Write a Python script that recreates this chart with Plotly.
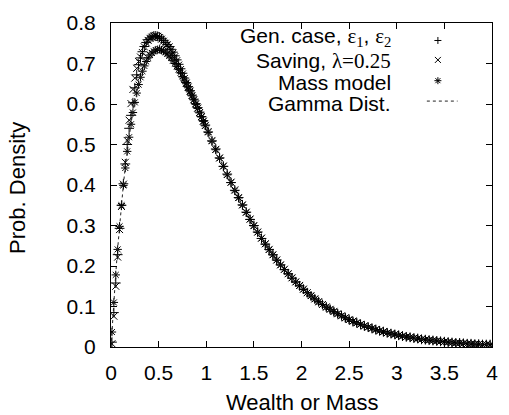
import plotly.graph_objects as go

# Shared wealth/mass grid (bin centres)
wealth = [
    0.01, 0.03, 0.05, 0.07, 0.09, 0.11, 0.13, 0.15, 0.17, 0.19,
    0.21, 0.23, 0.25, 0.27, 0.29, 0.31, 0.33, 0.35, 0.37, 0.39,
    0.41, 0.43, 0.45, 0.47, 0.49, 0.51, 0.53, 0.55, 0.57, 0.59,
    0.61, 0.63, 0.65, 0.67, 0.69, 0.71, 0.73, 0.75, 0.77, 0.79,
    0.81, 0.83, 0.85, 0.87, 0.89, 0.91, 0.93, 0.95, 0.97, 0.99,
    1.02, 1.06, 1.10, 1.14, 1.18, 1.22, 1.26, 1.30, 1.34, 1.38,
    1.42, 1.46, 1.50, 1.54, 1.58, 1.62, 1.66, 1.70, 1.74, 1.78,
    1.82, 1.86, 1.90, 1.94, 1.98, 2.02, 2.06, 2.10, 2.14, 2.18,
    2.22, 2.26, 2.30, 2.34, 2.38, 2.42, 2.46, 2.50, 2.54, 2.58,
    2.62, 2.66, 2.70, 2.74, 2.78, 2.82, 2.86, 2.90, 2.94, 2.98,
    3.02, 3.06, 3.10, 3.14, 3.18, 3.22, 3.26, 3.30, 3.34, 3.38,
    3.42, 3.46, 3.50, 3.54, 3.58, 3.62, 3.66, 3.70, 3.74, 3.78,
    3.82, 3.86, 3.90, 3.94, 3.98,
]

gen_case = [
    0.012, 0.085, 0.158, 0.228, 0.293, 0.350, 0.403, 0.452, 0.500, 0.540,
    0.572, 0.603, 0.640, 0.672, 0.697, 0.714, 0.729, 0.742, 0.752, 0.759,
    0.763, 0.766, 0.768, 0.768, 0.767, 0.765, 0.761, 0.757, 0.752, 0.747,
    0.742, 0.735, 0.728, 0.719, 0.709, 0.698, 0.687, 0.676, 0.664, 0.653,
    0.643, 0.633, 0.622, 0.612, 0.601, 0.591, 0.580, 0.569, 0.559, 0.548,
    0.531, 0.509, 0.489, 0.467, 0.446, 0.427, 0.406, 0.387, 0.369, 0.351,
    0.333, 0.315, 0.300, 0.284, 0.268, 0.254, 0.241, 0.228, 0.215, 0.203,
    0.191, 0.181, 0.170, 0.161, 0.151, 0.143, 0.134, 0.126, 0.119, 0.112,
    0.105, 0.099, 0.093, 0.087, 0.082, 0.077, 0.072, 0.068, 0.063, 0.060,
    0.056, 0.052, 0.049, 0.046, 0.043, 0.040, 0.038, 0.035, 0.033, 0.031,
    0.029, 0.027, 0.025, 0.024, 0.022, 0.021, 0.019, 0.018, 0.017, 0.016,
    0.015, 0.014, 0.013, 0.012, 0.011, 0.010, 0.010, 0.009, 0.008, 0.008,
    0.007, 0.007, 0.006, 0.006, 0.006,
]

saving = [
    0.008, 0.076, 0.150, 0.222, 0.290, 0.347, 0.402, 0.456, 0.510, 0.560,
    0.601, 0.636, 0.664, 0.688, 0.705, 0.716, 0.727, 0.741, 0.751, 0.757,
    0.762, 0.765, 0.768, 0.769, 0.767, 0.764, 0.760, 0.755, 0.750, 0.746,
    0.741, 0.734, 0.726, 0.717, 0.707, 0.696, 0.685, 0.674, 0.663, 0.652,
    0.642, 0.632, 0.621, 0.611, 0.601, 0.590, 0.579, 0.569, 0.558, 0.547,
    0.532, 0.510, 0.488, 0.467, 0.447, 0.426, 0.407, 0.388, 0.369, 0.351,
    0.333, 0.316, 0.300, 0.284, 0.269, 0.255, 0.241, 0.228, 0.215, 0.203,
    0.192, 0.181, 0.171, 0.161, 0.152, 0.143, 0.134, 0.127, 0.119, 0.112,
    0.105, 0.099, 0.093, 0.088, 0.082, 0.077, 0.072, 0.068, 0.064, 0.060,
    0.056, 0.052, 0.049, 0.046, 0.043, 0.040, 0.038, 0.035, 0.033, 0.031,
    0.029, 0.027, 0.025, 0.024, 0.022, 0.021, 0.019, 0.018, 0.017, 0.016,
    0.015, 0.014, 0.013, 0.012, 0.011, 0.010, 0.010, 0.009, 0.008, 0.008,
    0.007, 0.007, 0.006, 0.006, 0.005,
]

mass_model = [
    0.037, 0.110, 0.178, 0.241, 0.298, 0.350, 0.399, 0.442, 0.483, 0.518,
    0.550, 0.579, 0.604, 0.627, 0.648, 0.666, 0.681, 0.694, 0.705, 0.714,
    0.721, 0.726, 0.730, 0.733, 0.734, 0.735, 0.733, 0.731, 0.728, 0.724,
    0.719, 0.714, 0.707, 0.700, 0.693, 0.685, 0.677, 0.668, 0.659, 0.650,
    0.640, 0.630, 0.620, 0.610, 0.599, 0.589, 0.578, 0.568, 0.557, 0.546,
    0.530, 0.508, 0.487, 0.466, 0.446, 0.425, 0.406, 0.386, 0.368, 0.350,
    0.332, 0.315, 0.299, 0.283, 0.268, 0.254, 0.240, 0.227, 0.214, 0.202,
    0.191, 0.180, 0.170, 0.160, 0.151, 0.142, 0.134, 0.126, 0.118, 0.111,
    0.105, 0.098, 0.093, 0.087, 0.082, 0.077, 0.072, 0.067, 0.063, 0.059,
    0.056, 0.052, 0.049, 0.046, 0.043, 0.040, 0.037, 0.035, 0.033, 0.031,
    0.029, 0.027, 0.025, 0.024, 0.022, 0.021, 0.019, 0.018, 0.017, 0.016,
    0.015, 0.014, 0.013, 0.012, 0.011, 0.010, 0.010, 0.009, 0.008, 0.008,
    0.007, 0.007, 0.006, 0.006, 0.006,
]

gamma_x = [0.0] + wealth
gamma_dist = [
    0.0,
    0.0392, 0.1130, 0.1810, 0.2434, 0.3007, 0.3531, 0.4010, 0.4445, 0.4840, 0.5198,
    0.5519, 0.5808, 0.6065, 0.6293, 0.6495, 0.6670, 0.6823, 0.6952, 0.7061, 0.7151,
    0.7223, 0.7279, 0.7319, 0.7343, 0.7356, 0.7356, 0.7346, 0.7324, 0.7291, 0.7252,
    0.7203, 0.7149, 0.7085, 0.7016, 0.6944, 0.6864, 0.6780, 0.6694, 0.6603, 0.6510,
    0.6412, 0.6311, 0.6212, 0.6107, 0.6002, 0.5897, 0.5792, 0.5685, 0.5576, 0.5469,
    0.5304, 0.5088, 0.4875, 0.4665, 0.4456, 0.4255, 0.4057, 0.3864, 0.3677, 0.3494,
    0.3317, 0.3148, 0.2987, 0.2834, 0.2680, 0.2540, 0.2404, 0.2271, 0.2144, 0.2022,
    0.1915, 0.1800, 0.1702, 0.1606, 0.1513, 0.1422, 0.1335, 0.1260, 0.1181, 0.1116,
    0.1048, 0.0985, 0.0929, 0.0869, 0.0816, 0.0766, 0.0718, 0.0674, 0.0632, 0.0592,
    0.0555, 0.0520, 0.0488, 0.0457, 0.0428, 0.0400, 0.0375, 0.0351, 0.0328, 0.0308,
    0.0288, 0.0269, 0.0252, 0.0235, 0.0220, 0.0206, 0.0192, 0.0180, 0.0168, 0.0157,
    0.0146, 0.0137, 0.0128, 0.0119, 0.0111, 0.0104, 0.0097, 0.0090, 0.0084, 0.0079,
    0.0073, 0.0068, 0.0064, 0.0060, 0.0056,
]

x_ticks = [0, 0.5, 1, 1.5, 2, 2.5, 3, 3.5, 4]
y_ticks = [0, 0.1, 0.2, 0.3, 0.4, 0.5, 0.6, 0.7, 0.8]

SERIF = "Liberation Serif, Times New Roman, serif"
SANS = "Liberation Sans, Arial, Helvetica, sans-serif"
legend_labels = [
    "Gen. case, <span style='font-family:%s'>ε<sub>1</sub></span>, "
    "<span style='font-family:%s'>ε<sub>2</sub></span>" % (SERIF, SERIF),
    "Saving, <span style='font-family:%s'>λ=0.25</span>" % SERIF,
    "Mass model",
    "Gamma Dist.",
]

assert len(wealth) == len(gen_case) == len(saving) == len(mass_model)
assert len(gamma_x) == len(gamma_dist)

fig = go.Figure()
mk = dict(color="black", size=7, line=dict(color="black", width=1))
fig.add_trace(go.Scatter(x=wealth, y=gen_case, mode="markers", name=legend_labels[0],
                         marker=dict(symbol="cross-thin-open", **mk)))
fig.add_trace(go.Scatter(x=wealth, y=saving, mode="markers", name=legend_labels[1],
                         marker=dict(symbol="x-thin-open", **mk)))
fig.add_trace(go.Scatter(x=wealth, y=mass_model, mode="markers", name=legend_labels[2],
                         marker=dict(symbol="asterisk-open", **mk)))
fig.add_trace(go.Scatter(x=gamma_x, y=gamma_dist, mode="lines", name=legend_labels[3],
                         line=dict(color="#222", width=1, dash="dot")))

axis_common = dict(
    showgrid=False, zeroline=False, showline=True, linecolor="black", linewidth=1,
    mirror="ticks", ticks="inside", ticklen=6, tickwidth=1, tickcolor="black",
    tickfont=dict(family=SANS, size=21, color="black"),
)
fig.update_xaxes(range=[0, 4], tickvals=x_ticks, ticklabelstandoff=7, **axis_common)
fig.update_yaxes(range=[0, 0.8], tickvals=y_ticks, ticklabelstandoff=10, **axis_common)

# Custom gnuplot-style key: right-aligned text, sample on the right
row_y = [0.946, 0.886, 0.822, 0.759]
text_y = [0.958, 0.882, 0.817, 0.752]
annotations = []
for lab, ty in zip(legend_labels, text_y):
    annotations.append(dict(text=lab, x=0.739, y=ty, xref="paper", yref="paper",
                            xanchor="right", yanchor="middle", showarrow=False,
                            font=dict(family=SANS, size=21, color="black")))
annotations.append(dict(text="Wealth or Mass", x=0.5, y=-0.17, xref="paper", yref="paper",
                        xanchor="center", yanchor="middle", showarrow=False,
                        font=dict(family=SANS, size=22, color="black")))
annotations.append(dict(text="Prob. Density", x=-0.245, y=0.49, xref="paper", yref="paper",
                        xanchor="center", yanchor="middle", textangle=-90, showarrow=False,
                        font=dict(family=SANS, size=22, color="black")))

shapes = []
sx = 0.858
def seg(xa, ya, x0, y0, x1, y1, dash="solid"):
    return dict(type="line", xref="paper", yref="paper", xsizemode="pixel", ysizemode="pixel",
                xanchor=xa, yanchor=ya, x0=x0, y0=y0, x1=x1, y1=y1,
                line=dict(color="black", width=1, dash=dash))
# + sample
shapes += [seg(sx, row_y[0], -3.5, 0, 3.5, 0), seg(sx, row_y[0], 0, -3.5, 0, 3.5)]
# x sample
shapes += [seg(sx, row_y[1], -3, -3, 3, 3), seg(sx, row_y[1], -3, 3, 3, -3)]
# * sample
shapes += [seg(sx, row_y[2], -3.5, 0, 3.5, 0), seg(sx, row_y[2], 0, -3.5, 0, 3.5),
           seg(sx, row_y[2], -2.5, -2.5, 2.5, 2.5), seg(sx, row_y[2], -2.5, 2.5, 2.5, -2.5)]
# dotted line sample
shapes.append(dict(type="line", xref="paper", yref="paper", x0=0.829, x1=0.9096,
                   y0=row_y[3], y1=row_y[3], line=dict(color="#222", width=1, dash="dot")))

fig.update_layout(
    width=509, height=415,
    margin=dict(l=111, r=11, t=15, b=68),
    paper_bgcolor="white", plot_bgcolor="white",
    showlegend=False,
    annotations=annotations, shapes=shapes,
    font=dict(family=SANS, color="black"),
)

fig.write_html(
    "out.html",
    config={"displayModeBar": False},
    post_script=(
        "document.documentElement.style.margin='0';"
        "document.documentElement.style.padding='0';"
        "document.documentElement.style.overflow='hidden';"
        "document.body.style.margin='0';"
        "document.body.style.padding='0';"
        "document.body.style.overflow='hidden';"
    ),
)
